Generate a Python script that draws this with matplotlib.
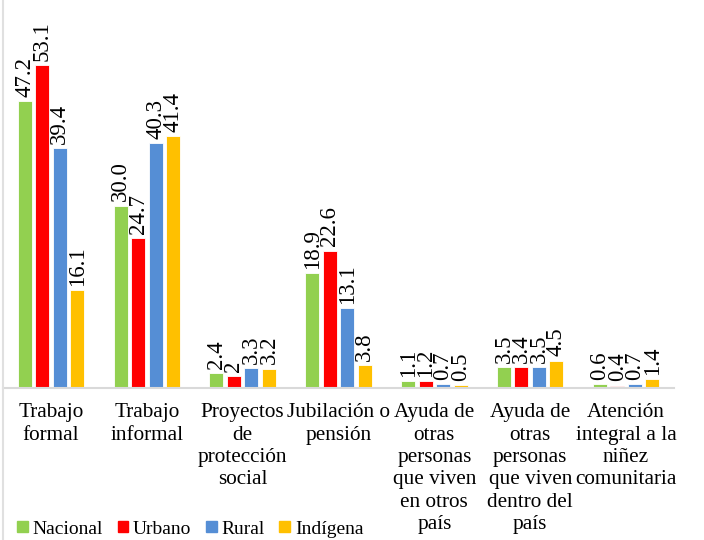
import numpy as np
import matplotlib
matplotlib.use("Agg")
import matplotlib.pyplot as plt
from matplotlib.lines import Line2D

categorias = [
    "Trabajo\nformal",
    "Trabajo\ninformal",
    "Proyectos\nde\nprotección\nsocial",
    "Jubilación o\npensión",
    "Ayuda de\notras\npersonas\nque viven\nen otros\npaís",
    "Ayuda de\notras\npersonas\nque viven\ndentro del\npaís",
    "Atención\nintegral a la\nniñez\ncomunitaria",
]
series = ["Nacional", "Urbano", "Rural", "Indígena"]

nacional = [47.2, 30.0, 2.4, 18.9, 1.1, 3.5, 0.6]
urbano = [53.1, 24.7, 2.0, 22.6, 1.2, 3.4, 0.4]
rural = [39.4, 40.3, 3.3, 13.1, 0.7, 3.5, 0.7]
indigena = [16.1, 41.4, 3.2, 3.8, 0.5, 4.5, 1.4]

etiquetas_nacional = ["47.2", "30.0", "2.4", "18.9", "1.1", "3.5", "0.6"]
etiquetas_urbano = ["53.1", "24.7", "2", "22.6", "1.2", "3.4", "0.4"]
etiquetas_rural = ["39.4", "40.3", "3.3", "13.1", "0.7", "3.5", "0.7"]
etiquetas_indigena = ["16.1", "41.4", "3.2", "3.8", "0.5", "4.5", "1.4"]

colores = ["#92D050", "#FF0000", "#558ED5", "#FFC000"]
valores = [nacional, urbano, rural, indigena]
etiquetas = [etiquetas_nacional, etiquetas_urbano, etiquetas_rural, etiquetas_indigena]

plt.rcParams["font.family"] = ["Liberation Serif", "DejaVu Serif"]

W, H = 704, 540
fig = plt.figure(figsize=(W / 100, H / 100), dpi=100)

# axes placed in pixel terms
x0, x1 = 3, 674
ybase, ytop = 388, 23
ax = fig.add_axes([x0 / W, (H - ybase) / H, (x1 - x0) / W, (ybase - ytop) / H])

x = np.arange(len(categorias))
paso = 0.1827
ancho = 0.146
for i, (vals, col, labs) in enumerate(zip(valores, colores, etiquetas)):
    pos = x + (i - 1.5) * paso
    ax.bar(pos, vals, width=ancho, color=col, edgecolor="white", linewidth=0.6, zorder=2)
    for p, v, t in zip(pos, vals, labs):
        ax.annotate(t, (p, v), xytext=(0, 3), textcoords="offset points",
                    rotation=90, ha="center", va="bottom", fontsize=16.5,
                    color="black")

ax.set_xlim(-0.5, len(categorias) - 0.5)
ax.set_ylim(0, (ybase - ytop) / 6.08)
for s in ["top", "right", "left"]:
    ax.spines[s].set_visible(False)
ax.spines["bottom"].set_color("#D9D9D9")
ax.spines["bottom"].set_linewidth(1.5)
ax.set_yticks([])
ax.set_xticks(x)
ax.set_xticklabels(categorias, fontsize=15.3, linespacing=1.24, va="top")
ax.tick_params(axis="x", length=0, pad=11)

# faint frame line on the left
fig.add_artist(Line2D([3 / W, 3 / W], [0, 1], color="#E0E0E0", linewidth=1.5))

handles = [plt.Rectangle((0, 0), 1, 1, color=c) for c in colores]
fig.legend(handles, series, loc="center left", bbox_to_anchor=(17 / W, 1 - 529 / H),
           ncol=4, frameon=False, fontsize=14, handlelength=0.55, handleheight=0.55,
           handletextpad=0.25, columnspacing=0.75, borderaxespad=0, borderpad=0)

fig.savefig("out.png", dpi=100)
